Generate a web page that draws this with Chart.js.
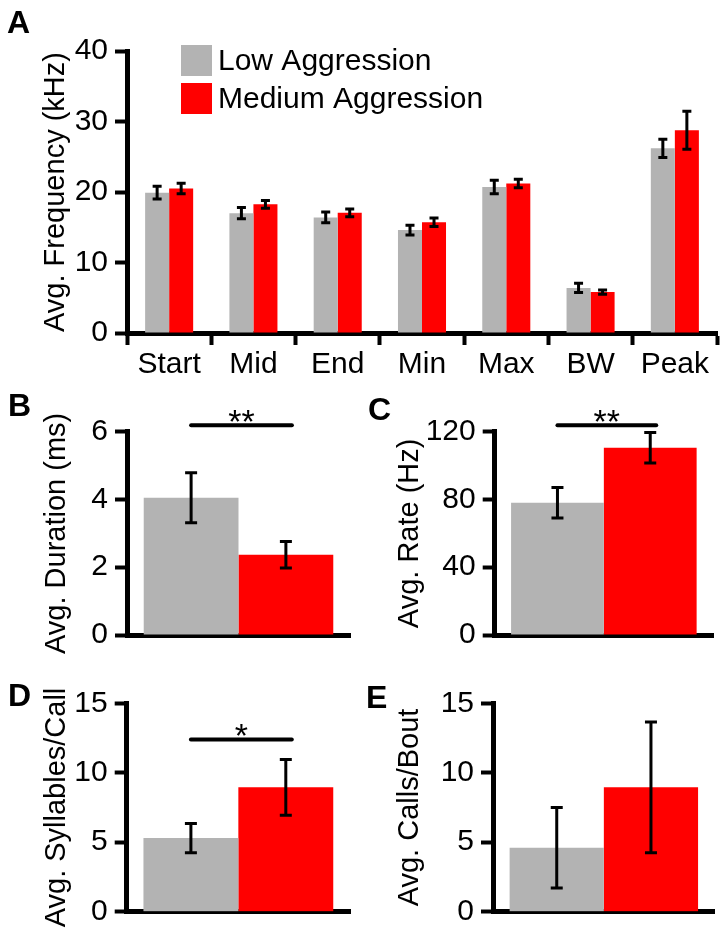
<!DOCTYPE html>
<html>
<head>
<meta charset="utf-8">
<script src="https://cdn.jsdelivr.net/npm/chart.js@4/dist/chart.umd.min.js"></script>
<style>
  html, body { margin:0; padding:0; background:#fff; }
  #wrap { position:relative; width:726px; height:938px; overflow:hidden; }
  .panel { position:absolute; }
  .letter { position:absolute; font:bold 32px 'Liberation Sans', Arial, sans-serif; line-height:32px; color:#000; }
</style>
</head>
<body>
<div id="wrap">
  <div class="panel" style="left:0;top:0"><canvas id="chartA" width="726" height="375"></canvas></div>
  <div class="panel" style="left:0;top:375px"><canvas id="chartB" width="363" height="285"></canvas></div>
  <div class="panel" style="left:363px;top:375px"><canvas id="chartC" width="363" height="285"></canvas></div>
  <div class="panel" style="left:0;top:660px"><canvas id="chartD" width="363" height="278"></canvas></div>
  <div class="panel" style="left:363px;top:660px"><canvas id="chartE" width="363" height="278"></canvas></div>
  <div class="letter" style="left:7px;top:6px">A</div>
  <div class="letter" style="left:8px;top:389px">B</div>
  <div class="letter" style="left:368px;top:393px">C</div>
  <div class="letter" style="left:8px;top:679px">D</div>
  <div class="letter" style="left:366px;top:681px">E</div>
</div>
<script>
// ── DATA ──────────────────────────────────────────────
var groupNames = ['Low Aggression', 'Medium Aggression'];
var groupColors = ['#b3b3b3', '#ff0000'];

// panel A: frequency measures (kHz)
var freqCategories = ['Start', 'Mid', 'End', 'Min', 'Max', 'BW', 'Peak'];
var freqLow    = [19.9, 17.0, 16.4, 14.6, 20.7, 6.4, 26.2];
var freqLowErr = [0.9, 0.8, 0.75, 0.7, 0.95, 0.65, 1.3];
var freqMed    = [20.5, 18.25, 17.05, 15.7, 21.2, 5.8, 28.75];
var freqMedErr = [0.75, 0.55, 0.55, 0.6, 0.6, 0.3, 2.7];

// panels B-E: [low, medium]
var durationMean = [4.05, 2.37], durationErr = [0.74, 0.39];
var rateMean     = [78, 110.5],  rateErr     = [9, 9];
var syllMean     = [5.3, 8.95],  syllErr     = [1.05, 2.0];
var boutMean     = [4.6, 8.95],  boutErr     = [2.9, 4.7];

// significance bars (level in axis units)
var durationSig = { level: 6.19, text: '**' };
var rateSig     = { level: 123.8, text: '**' };
var syllSig     = { level: 12.4, text: '*' };

Chart.defaults.font.family = "'Liberation Sans', Arial, sans-serif";
Chart.defaults.color = '#000';

// ── PLUGINS ───────────────────────────────────────────
var errorBars = {
  id: 'errorBars',
  afterDatasetsDraw: function(chart, args, opts){
    var ctx = chart.ctx, y = chart.scales.y;
    ctx.save();
    ctx.strokeStyle = '#000';
    ctx.lineWidth = opts.width || 3;
    chart.data.datasets.forEach(function(ds, i){
      chart.getDatasetMeta(i).data.forEach(function(bar, j){
        var hi = y.getPixelForValue(ds.data[j] + ds.err[j]);
        var lo = y.getPixelForValue(ds.data[j] - ds.err[j]);
        var c = opts.cap || 4;
        ctx.beginPath();
        ctx.moveTo(bar.x, hi); ctx.lineTo(bar.x, lo);
        ctx.moveTo(bar.x - c, hi); ctx.lineTo(bar.x + c, hi);
        ctx.moveTo(bar.x - c, lo); ctx.lineTo(bar.x + c, lo);
        ctx.stroke();
      });
    });
    ctx.restore();
  }
};

var sigBar = {
  id: 'sigBar',
  afterDraw: function(chart, args, opts){
    if(!opts || !opts.text) return;
    var ctx = chart.ctx, y = chart.scales.y;
    var x0 = chart.getDatasetMeta(0).data[0].x;
    var x1 = chart.getDatasetMeta(1).data[0].x + 6;
    var py = y.getPixelForValue(opts.level);
    ctx.save();
    ctx.strokeStyle = '#000';
    ctx.lineWidth = 4;
    ctx.lineCap = 'round';
    ctx.beginPath(); ctx.moveTo(x0, py); ctx.lineTo(x1, py); ctx.stroke();
    ctx.fillStyle = '#000';
    ctx.font = "34px 'Liberation Sans', Arial, sans-serif";
    ctx.textAlign = 'center';
    ctx.textBaseline = 'alphabetic';
    ctx.fillText(opts.text, (x0 + x1) / 2, py + 8);
    ctx.restore();
  }
};

var boxLegend = {
  id: 'boxLegend',
  afterDraw: function(chart, args, opts){
    if(!opts || !opts.show) return;
    var ctx = chart.ctx;
    ctx.save();
    ctx.font = "30px 'Liberation Sans', Arial, sans-serif";
    ctx.textBaseline = 'middle';
    chart.data.datasets.forEach(function(ds, i){
      var top = opts.y + i * opts.step;
      ctx.fillStyle = ds.backgroundColor;
      ctx.fillRect(opts.x, top, opts.box, opts.box);
      ctx.fillStyle = '#000';
      ctx.fillText(ds.label, opts.x + opts.box + 6, top + opts.box / 2 + 1);
    });
    ctx.restore();
  }
};

Chart.register(errorBars, sigBar, boxLegend);

function yAxis(title, max, step, labelEvery, width, titlePad){
  return {
    min: 0, max: max,
    afterFit: function(s){ s.width = width; },
    border: { display: true, color: '#000', width: 5 },
    grid: { drawOnChartArea: false, drawTicks: true, tickLength: 12, tickWidth: 4, color: '#000' },
    ticks: {
      stepSize: step, padding: 7, color: '#000',
      font: { size: 30 },
      callback: function(v){ return (Math.round(v * 1000) % Math.round(labelEvery * 1000) === 0) ? v : ''; }
    },
    title: { display: true, text: title, color: '#000', font: { size: 29, lineHeight: 1 }, padding: { top: titlePad, bottom: 0 } }
  };
}

// ── PANEL A ───────────────────────────────────────────
new Chart(document.getElementById('chartA'), {
  type: 'bar',
  data: {
    labels: freqCategories,
    datasets: [
      { label: groupNames[0], data: freqLow, err: freqLowErr, backgroundColor: groupColors[0], categoryPercentage: 0.57, barPercentage: 1 },
      { label: groupNames[1], data: freqMed, err: freqMedErr, backgroundColor: groupColors[1], categoryPercentage: 0.57, barPercentage: 1 }
    ]
  },
  options: {
    responsive: false, animation: false,
    layout: { padding: { left: 0, top: 51, right: 9, bottom: 0 } },
    plugins: {
      legend: { display: false }, tooltip: { enabled: false },
      errorBars: { width: 3, cap: 4.5 },
      boxLegend: { show: true, x: 181, y: 45, box: 31, step: 38 }
    },
    scales: {
      x: {
        afterFit: function(s){ s.height = 42; },
        border: { display: true, color: '#000', width: 5 },
        grid: { drawOnChartArea: false, drawTicks: true, tickLength: 12, tickWidth: 4, color: '#000', offset: true },
        ticks: { color: '#000', font: { size: 30 }, padding: 2, maxRotation: 0 }
      },
      y: yAxis('Avg. Frequency (kHz)', 40, 5, 10, 127, 41.5)
    }
  }
});

// ── PANELS B-E ────────────────────────────────────────
function smallPanel(canvasId, title, means, errs, max, step, labelEvery, pad, yWidth, xHeight, titlePad, sig){
  new Chart(document.getElementById(canvasId), {
    type: 'bar',
    data: {
      labels: [''],
      datasets: [
        { label: groupNames[0], data: [means[0]], err: [errs[0]], backgroundColor: groupColors[0], categoryPercentage: 0.85, barPercentage: 1 },
        { label: groupNames[1], data: [means[1]], err: [errs[1]], backgroundColor: groupColors[1], categoryPercentage: 0.85, barPercentage: 1 }
      ]
    },
    options: {
      responsive: false, animation: false,
      layout: { padding: pad },
      plugins: {
        legend: { display: false }, tooltip: { enabled: false },
        errorBars: { width: 3, cap: 6 },
        sigBar: sig || {}
      },
      scales: {
        x: {
          afterFit: function(s){ s.height = xHeight; },
          border: { display: true, color: '#000', width: 5 },
          grid: { display: false },
          ticks: { display: false }
        },
        y: yAxis(title, max, step, labelEvery, yWidth, titlePad)
      }
    }
  });
}

smallPanel('chartB', 'Avg. Duration (ms)', durationMean, durationErr, 6, 1, 2,
  { left: 0, top: 56.7, right: 13, bottom: 0 }, 127, 20, 42.5, durationSig);
smallPanel('chartC', 'Avg. Rate (Hz)', rateMean, rateErr, 120, 20, 40,
  { left: 0, top: 56.7, right: 13, bottom: 0 }, 131.7, 18.3, 32.5, rateSig);
smallPanel('chartD', 'Avg. Syllables/Call', syllMean, syllErr, 15, 5, 5,
  { left: 0, top: 43.3, right: 13, bottom: 0 }, 126.7, 26.3, 42.5, syllSig);
smallPanel('chartE', 'Avg. Calls/Bout', boutMean, boutErr, 15, 5, 5,
  { left: 0, top: 43.3, right: 11.3, bottom: 0 }, 130, 26.3, 32.5, null);
</script>
</body>
</html>
